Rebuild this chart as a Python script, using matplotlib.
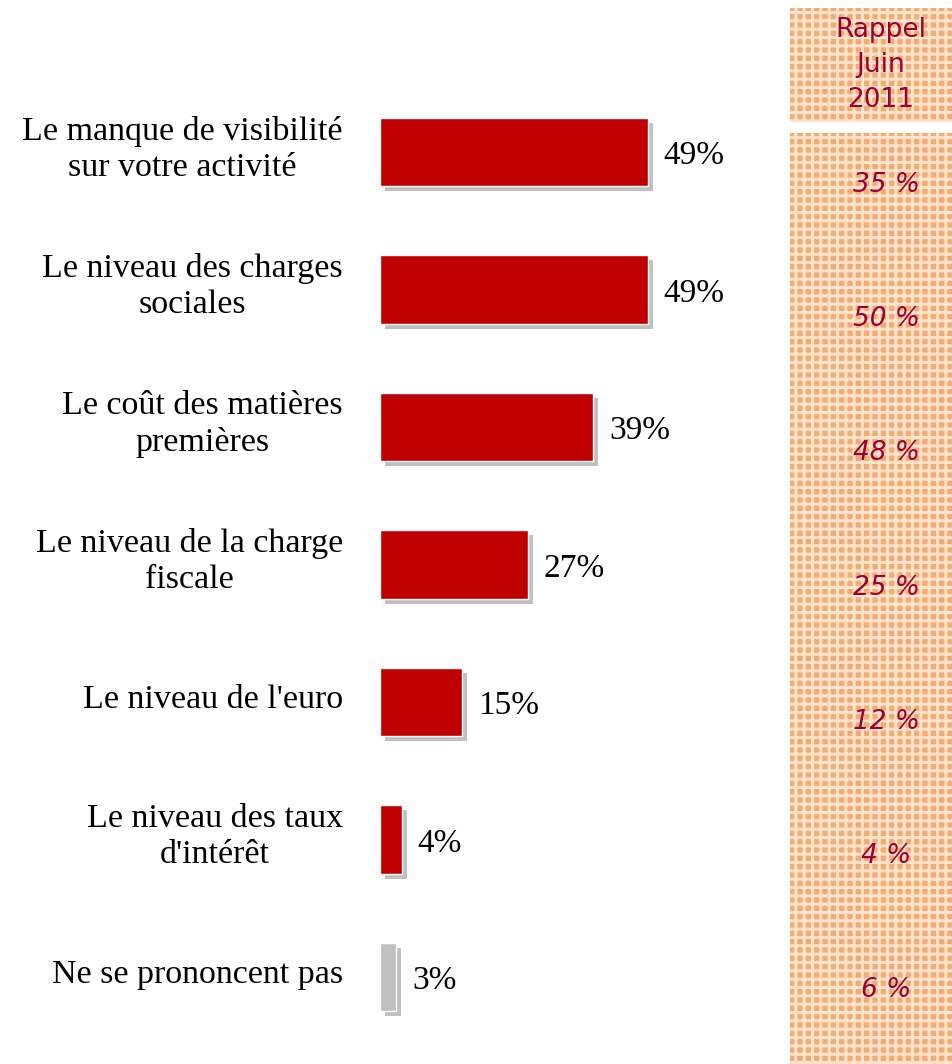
import matplotlib.pyplot as plt
import matplotlib.patheffects as pe
from matplotlib.patches import Rectangle

labels = ["Le manque de visibilité\nsur votre activité",
          "Le niveau des charges\nsociales",
          "Le coût des matières\npremières",
          "Le niveau de la charge\nfiscale",
          "Le niveau de l'euro",
          "Le niveau des taux\nd'intérêt",
          "Ne se prononcent pas"]
values = [49, 49, 39, 27, 15, 4, 3]
rappel = ["35 %", "50 %", "48 %", "25 %", "12 %", "4 %", "6 %"]
colors = ["#c00000"] * 6 + ["#c0c0c0"]

plt.rcParams['hatch.linewidth'] = 2.2

fig = plt.figure(figsize=(9.53, 10.64), dpi=100)

# orange checked panels on the right
for (y0, h) in [(1 - 122 / 1064, 114 / 1064), (0, 1 - 133 / 1064)]:
    fig.patches.append(Rectangle((790 / 953, y0), 163 / 953, h,
                                 transform=fig.transFigure, facecolor="#f4ab70",
                                 edgecolor="#fde3cc", hatch="++", lw=0, zorder=-5))
fig.text(881 / 953, 1 - 65 / 1064, "Rappel\nJuin\n2011", ha="center", va="center",
         color="#990033", fontsize=19, family="DejaVu Sans", linespacing=1.45)

ax = fig.add_axes([380 / 953, 0.01715, 328 / 953, 0.9046])
ax.set_zorder(2)
y = list(range(len(values)))
bars = ax.barh(y, values, height=0.495, color=colors, edgecolor="white", linewidth=1)
for b in bars:
    b.set_path_effects([pe.SimplePatchShadow(offset=(3.6, -3.6), shadow_rgbFace="#c0c0c0",
                                             alpha=1.0), pe.Normal()])
ax.set_xlim(0, 60)
ax.set_ylim(6.5, -0.5)
ax.axis("off")

for i, v in enumerate(values):
    ax.text(v + 2.9, i + 0.03, f"{v}%", va="center", ha="left",
            fontsize=24, family="Liberation Serif", color="black")
    ax.text(-6.8, i - 0.02, labels[i], va="center", ha="right", multialignment="center",
            fontsize=24.5, family="Liberation Serif", color="black", linespacing=1.25)

# the Rappel column is spaced a little tighter than the bars
for i, r in enumerate(rappel):
    fig.text(886 / 953, 1 - (185 + 134.2 * i) / 1064, r, ha="center", va="center",
             fontsize=19, style="italic", family="DejaVu Sans", color="#990033")

fig.savefig("out.png", dpi=100)
